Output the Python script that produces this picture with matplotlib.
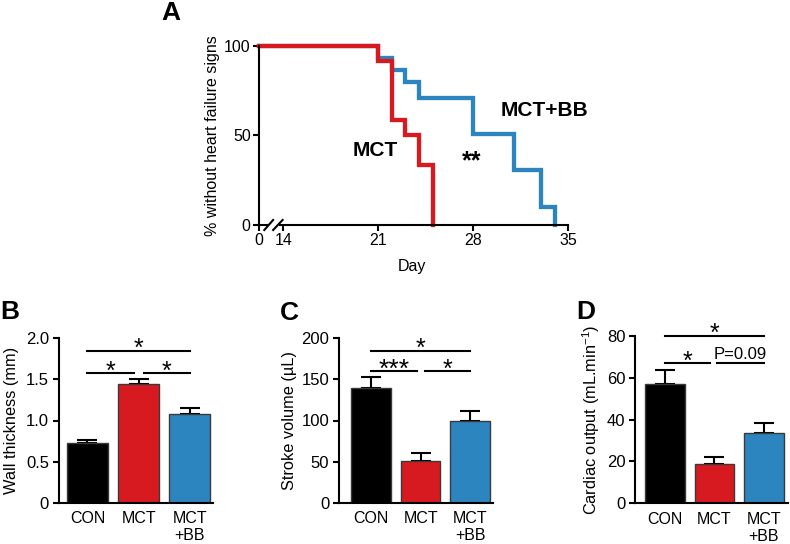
import numpy as np
import matplotlib
matplotlib.use('Agg')
from matplotlib import pyplot as plt

plt.rcParams['font.family'] = ['Liberation Sans', 'DejaVu Sans']
plt.rcParams['mathtext.fontset'] = 'custom'
plt.rcParams['mathtext.rm'] = 'Liberation Sans'
plt.rcParams['axes.linewidth'] = 1.5

RED = '#d71a20'
BLUE = '#2d85c0'

# panel A: survival curves (day, % without heart failure signs)
mct_days = [0, 21, 22, 23, 24, 25]
mct_pct = [100, 91.7, 58.3, 50.0, 33.3, 0]
bb_days = [0, 21, 22, 23, 24, 28, 31, 33, 34]
bb_pct = [100, 93.3, 86.7, 80.0, 71.1, 50.8, 30.5, 10.2, 0]
day_ticks = [0, 14, 21, 28, 35]

# panels B-D: bar values and upper SEM
groups = ['CON', 'MCT', 'MCT\n+BB']
bar_colors = ['black', RED, BLUE]
wall = [0.73, 1.44, 1.08]
wall_err = [0.03, 0.06, 0.07]
stroke = [139, 51, 100]
stroke_err = [14, 10, 12]
cardiac = [57, 19, 33.5]
cardiac_err = [6.8, 3.2, 4.8]

BREAK0 = 12.21  # where "day 0" sits on the broken axis


def xpos(d):
    return BREAK0 if d == 0 else d


def px(x, y):
    # pixel position (from top-left) -> figure fraction
    return x/790, 1-y/544


fig = plt.figure(figsize=(7.9, 5.44), dpi=100)

# ---------- A ----------
ax = fig.add_axes([259/790, 1-225/544, 309.3/790, 179.3/544])
ax.step([xpos(d) for d in bb_days], bb_pct, where='post', color=BLUE, lw=3.1,
        clip_on=False, solid_joinstyle='miter')
ax.step([xpos(d) for d in mct_days], mct_pct, where='post', color=RED, lw=3.1,
        clip_on=False, solid_joinstyle='miter')
ax.set_xlim(BREAK0, 35)
ax.set_ylim(0, 100)
ax.spines['top'].set_visible(False)
ax.spines['right'].set_visible(False)
ax.spines['bottom'].set_visible(False)
tr = ax.get_xaxis_transform()
ax.plot([BREAK0, 12.9], [0, 0], color='black', lw=1.5, transform=tr, clip_on=False)
ax.plot([13.75, 35], [0, 0], color='black', lw=1.5, transform=tr, clip_on=False)
ax.plot([12.6, 13.25], [-0.028, 0.028], color='black', lw=1.5, transform=tr, clip_on=False)
ax.plot([13.25, 13.95], [-0.028, 0.028], color='black', lw=1.5, transform=tr, clip_on=False)
ax.set_xticks([xpos(d) for d in day_ticks])
ax.set_xticklabels([str(d) for d in day_ticks])
ax.set_yticks([0, 50, 100])
ax.tick_params(direction='out', length=4, width=1.5, pad=2, labelsize=11.5)
ax.set_xlabel('Day', fontsize=11.5)
ax.xaxis.set_label_coords(0.495, -0.191)
ax.set_ylabel('% without heart failure signs', fontsize=11.5)
ax.yaxis.set_label_coords(-0.126, 0.5)
fig.text(*px(545, 110), 'MCT+BB', fontsize=15, fontweight='bold', ha='center', va='center')
fig.text(*px(375.5, 150), 'MCT', fontsize=15, fontweight='bold', ha='center', va='center')
fig.text(*px(471.5, 161), '**', fontsize=18, fontweight='bold', ha='center', va='center')


def bar_panel(rect, vals, errs, ylim, yticks, ylabel, xlim, labx):
    a = fig.add_axes(rect)
    x = np.arange(len(vals))
    a.bar(x, vals, width=0.8, color=bar_colors, edgecolor='#3a3a3a', linewidth=1.0,
          zorder=2)
    a.errorbar(x, vals, yerr=[[0]*len(vals), errs], fmt='none', ecolor='black',
               elinewidth=1.5, capsize=7.5, capthick=1.5, zorder=1)
    a.set_xlim(*xlim)
    a.set_ylim(*ylim)
    a.set_yticks(yticks)
    a.set_xticks(x)
    a.set_xticklabels(groups)
    a.spines['top'].set_visible(False)
    a.spines['right'].set_visible(False)
    a.tick_params(axis='y', direction='out', length=4, width=1.5, pad=3, labelsize=12)
    a.tick_params(axis='x', length=0, pad=6, labelsize=11.5)
    a.set_ylabel(ylabel, fontsize=11.8)
    a.yaxis.set_label_coords(labx, 0.5)
    return a


def sig(a, x0, x1, y, txt, tx=None, dy=-4.3, fs=18):
    a.plot([x0, x1], [y, y], color='black', lw=1.5, clip_on=False)
    a.annotate(txt, xy=((x0+x1)/2 if tx is None else tx, y), xytext=(0, dy),
               textcoords='offset points', ha='center', va='baseline', fontsize=fs,
               annotation_clip=False)


# ---------- B ----------
axb = bar_panel([58.7/790, 1-502.7/544, 154.3/790, 164.4/544], wall, wall_err,
                (0, 2.0), [0, 0.5, 1.0, 1.5, 2.0], 'Wall thickness (mm)',
                (-0.56, 2.45), -0.257)
axb.set_yticklabels(['0', '0.5', '1.0', '1.5', '2.0'])
sig(axb, 0, 2, 1.846, '*', dy=-3.8)
sig(axb, 0, 0.9, 1.574, '*')
sig(axb, 1.1, 2, 1.574, '*')

# ---------- C ----------
axc = bar_panel([339/790, 1-502.7/544, 153.7/790, 164.4/544], stroke, stroke_err,
                (0, 200), [0, 50, 100, 150, 200], 'Stroke volume (µL)',
                (-0.64, 2.45), -0.273)
sig(axc, 0, 2, 185, '*', dy=-3.8)
sig(axc, 0, 0.92, 160.6, '***', fs=19)
sig(axc, 1.08, 2, 160.6, '*')

# ---------- D ----------
axd = bar_panel([635/790, 1-503.3/544, 153/790, 167.3/544], cardiac, cardiac_err,
                (0, 80), [0, 20, 40, 60, 80], r'Cardiac output (mL.min$^{-1}$)',
                (-0.61, 2.49), -0.216)
sig(axd, 0, 0.9, 67, '*')
sig(axd, 1.05, 2, 67, 'P=0.09', dy=2.9, fs=12)
sig(axd, 0, 2, 80.2, '*', dy=-3.8)

# panel letters
for lab, x, y in [('A', 171, 13), ('B', 10, 312), ('C', 289, 313), ('D', 585.5, 312)]:
    fig.text(*px(x, y), lab, fontsize=19, fontweight='bold', ha='center', va='center')

fig.savefig('out.png', dpi=100)
